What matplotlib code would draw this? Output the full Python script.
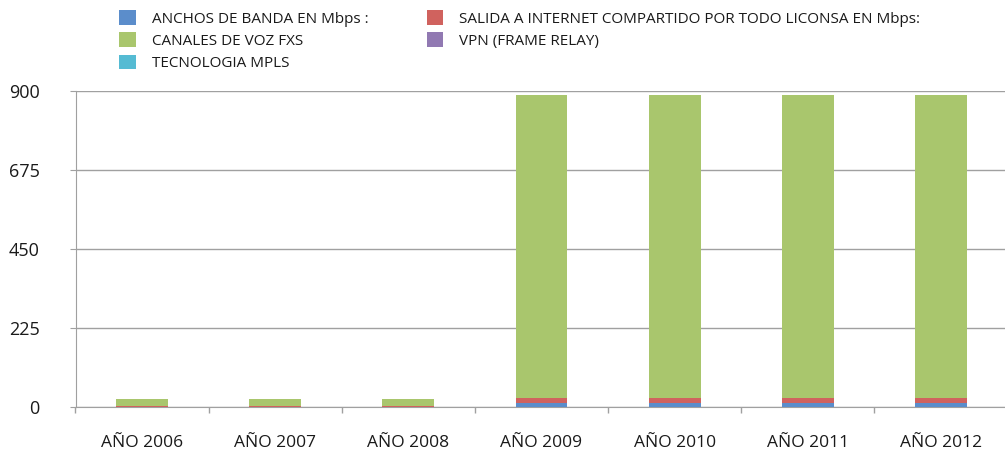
import matplotlib
matplotlib.use("Agg")
import matplotlib.pyplot as plt
import numpy as np

categories = ["AÑO 2006", "AÑO 2007", "AÑO 2008", "AÑO 2009", "AÑO 2010", "AÑO 2011", "AÑO 2012"]
anchos = [0, 0, 0, 10, 10, 10, 10]
salida = [2, 2, 2, 15, 15, 15, 15]
canales = [20, 20, 20, 865, 865, 865, 865]
vpn = [0, 0, 0, 0, 0, 0, 0]
mpls = [0, 0, 0, 0, 0, 0, 0]

yticks = [0, 225, 450, 675, 900]

colors = {
    "anchos": "#5B8DCB",
    "salida": "#D0625E",
    "canales": "#A9C66D",
    "vpn": "#9179B2",
    "mpls": "#55BBD3",
}

plt.rcParams['font.family'] = ['Open Sans', 'DejaVu Sans']

fig = plt.figure(figsize=(10.05, 4.53), dpi=100)
ax = fig.add_axes([75.5 / 1005, 1 - 407 / 453, (1007.5 - 75.5) / 1005, (407 - 91) / 453])

x = np.arange(len(categories))
w = 0.39
bottom = np.zeros(len(categories))
series = [
    ("ANCHOS DE BANDA EN Mbps :", anchos, colors["anchos"]),
    ("SALIDA A INTERNET COMPARTIDO POR TODO LICONSA EN Mbps:", salida, colors["salida"]),
    ("CANALES DE VOZ FXS", canales, colors["canales"]),
    ("VPN (FRAME RELAY)", vpn, colors["vpn"]),
    ("TECNOLOGIA MPLS", mpls, colors["mpls"]),
]
handles = {}
for label, vals, c in series:
    vals = np.array(vals, dtype=float)
    b = ax.bar(x, vals, w, bottom=bottom, color=c, label=label, zorder=3)
    handles[label] = b
    bottom += vals

ax.set_xlim(-0.5, len(categories) - 0.5)
ax.set_ylim(0, 900)
ax.set_yticks(yticks)
ax.set_yticklabels([str(t) for t in yticks])
ax.set_xticks(x)
ax.set_xticklabels(categories)
ax.set_xticks(np.arange(-0.5, len(categories) - 0.4, 1), minor=True)
ax.tick_params(axis='x', which='major', length=0, pad=20, labelsize=12.5, labelcolor='#1a1a1a')
ax.tick_params(axis='x', which='minor', length=4, color='#A0A0A0', width=1)
ax.tick_params(axis='y', length=4, color='#A0A0A0', pad=22, labelsize=13, labelcolor='#1a1a1a')

ax.yaxis.grid(True, color='#A0A0A0', linewidth=1, zorder=0)
for s in ['top', 'right']:
    ax.spines[s].set_visible(False)
ax.spines['left'].set_color('#A0A0A0')
ax.spines['bottom'].set_color('#A0A0A0')
ax.set_axisbelow(True)

order = ["ANCHOS DE BANDA EN Mbps :", "CANALES DE VOZ FXS", "TECNOLOGIA MPLS",
         "SALIDA A INTERNET COMPARTIDO POR TODO LICONSA EN Mbps:", "VPN (FRAME RELAY)"]
leg = fig.legend([handles[o] for o in order], order, ncol=2, loc='upper left',
                 bbox_to_anchor=(113 / 1005, 1 - 4 / 453), frameon=False,
                 fontsize=11, handlelength=1.1, handleheight=1.1, handletextpad=1.05,
                 columnspacing=3.8, labelspacing=0.38, borderaxespad=0)
for t in leg.get_texts():
    t.set_color('#1a1a1a')

fig.savefig("out.png", dpi=100)
